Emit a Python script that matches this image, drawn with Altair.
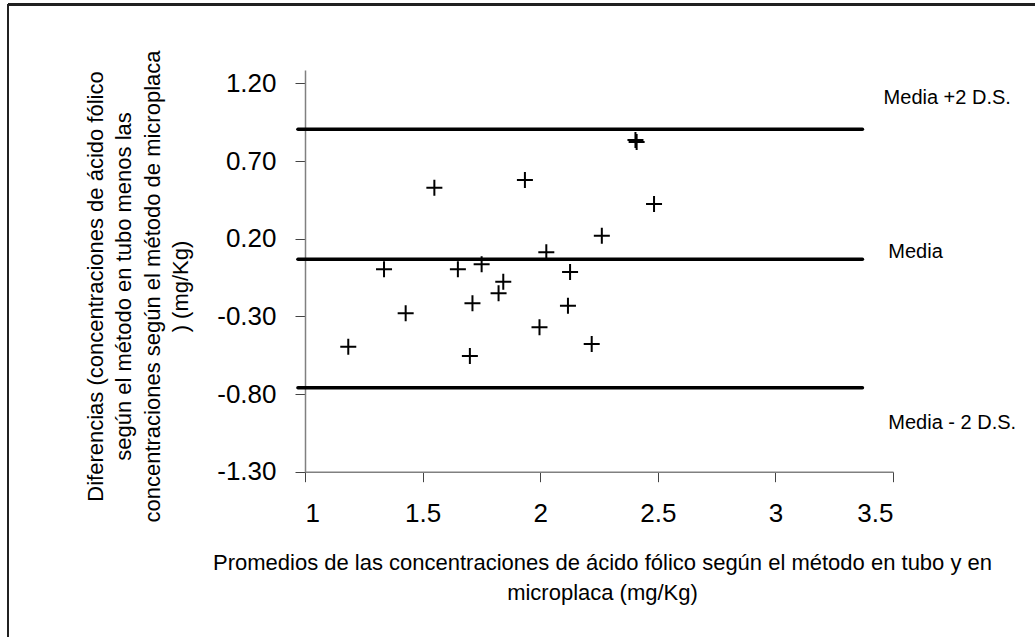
import altair as alt
import pandas as pd

# Bland-Altman data
avg = [1.184, 1.336, 1.428, 1.550, 1.650, 1.701, 1.712, 1.751, 1.823, 1.843,
       1.935, 1.997, 2.026, 2.118, 2.127, 2.219, 2.262, 2.405, 2.410, 2.484]
diff = [-0.495, 0.003, -0.280, 0.528, 0.003, -0.555, -0.216, 0.035, -0.151, -0.077,
        0.578, -0.370, 0.112, -0.231, -0.014, -0.478, 0.219, 0.835, 0.822, 0.423]

# reference lines: mean + 2SD, mean, mean - 2SD
levels = [0.904, 0.067, -0.759]
line_start = [0.97, 0.97, 0.97]
line_end = [3.37, 3.37, 3.37]

label_text = ["Media  +2 D.S.", "Media", "Media - 2 D.S."]
label_x = [3.46, 3.48, 3.48]
label_y = [1.107, 0.116, -0.984]

x_ticks = [1, 1.5, 2, 2.5, 3, 3.5]
y_ticks = [-1.3, -0.8, -0.3, 0.2, 0.7, 1.2]

y_title = ["Diferencias (concentraciones de ácido fólico",
           "según el método en tubo menos las",
           "concentraciones según el método de microplaca",
           ") (mg/Kg)"]
x_title = ["Promedios de las concentraciones de ácido fólico según el método en tubo y en",
           "microplaca (mg/Kg)"]

FONT = "Liberation Sans"

pts = pd.DataFrame({"avg": avg, "diff": diff})
lines = pd.DataFrame({"x": line_start, "x2": line_end, "y": levels})
labels = pd.DataFrame({"x": label_x, "y": label_y, "t": label_text})

xscale = alt.Scale(domain=[1, 3.5], nice=False, zero=False)
yscale = alt.Scale(domain=[-1.3, 1.286], nice=False, zero=False)

xaxis = alt.Axis(values=x_ticks, format="~g", title=x_title, grid=False,
                 labelFontSize=26, labelPadding=19, tickSize=10,
                 titleFontSize=22, titleFontWeight="normal", titleLineHeight=30,
                 titleBaseline="top", titleY=81, titleAlign="center", titleX=297,
                 domainColor="#808080", domainWidth=1.5, tickColor="#444",
                 labelColor="black", titleColor="black", labelFont=FONT, titleFont=FONT)
yaxis = alt.Axis(values=y_ticks, labelExpr="replace(format(datum.value, '.2f'), '\u2212', '-')",
                 title=y_title, grid=False,
                 labelFontSize=26, labelPadding=19, tickSize=10,
                 titleFontSize=22, titleFontWeight="normal", titleLineHeight=28.5,
                 titleAngle=270, titleBaseline="middle", titleAlign="center",
                 titleX=-210, titleY=216,
                 domainColor="#808080", domainWidth=1.5, tickColor="#444",
                 labelColor="black", titleColor="black", labelFont=FONT, titleFont=FONT)

points = alt.Chart(pts).mark_point(
    shape="M-1,0L1,0M0,-1L0,1", filled=False, stroke="black", strokeWidth=2,
    size=256, opacity=1, clip=False
).encode(
    x=alt.X("avg:Q", scale=xscale, axis=xaxis),
    y=alt.Y("diff:Q", scale=yscale, axis=yaxis),
)

rules = alt.Chart(lines).mark_rule(
    color="black", strokeWidth=3.5, strokeCap="round", clip=False
).encode(
    x=alt.X("x:Q", scale=xscale, axis=xaxis),
    x2="x2:Q",
    y=alt.Y("y:Q", scale=yscale, axis=yaxis),
)

texts = alt.Chart(labels).mark_text(
    align="left", baseline="middle", fontSize=20, font=FONT, color="black", clip=False
).encode(
    x=alt.X("x:Q", scale=xscale, axis=xaxis),
    y=alt.Y("y:Q", scale=yscale, axis=yaxis),
    text="t:N",
)

# outer frame (top and left edges visible in the original image)
frame_top = alt.Chart(pts).mark_rule(color="#222", strokeWidth=1.5, clip=False).encode(
    x=alt.value(-297), x2=alt.value(740), y=alt.value(-65.5)
)
frame_left = alt.Chart(pts).mark_rule(color="#222", strokeWidth=1.5, clip=False).encode(
    x=alt.value(-297), y=alt.value(-65.5), y2=alt.value(580)
)

chart = alt.layer(frame_top, frame_left, rules, points, texts).properties(
    width=588, height=401.7,
    autosize=alt.AutoSizeParams(type="none"),
    padding={"left": 305, "top": 70, "right": 142, "bottom": 165.3},
    background="white",
).configure_view(stroke=None)

chart.save("out.html", embed_options={"renderer": "svg", "actions": False})
